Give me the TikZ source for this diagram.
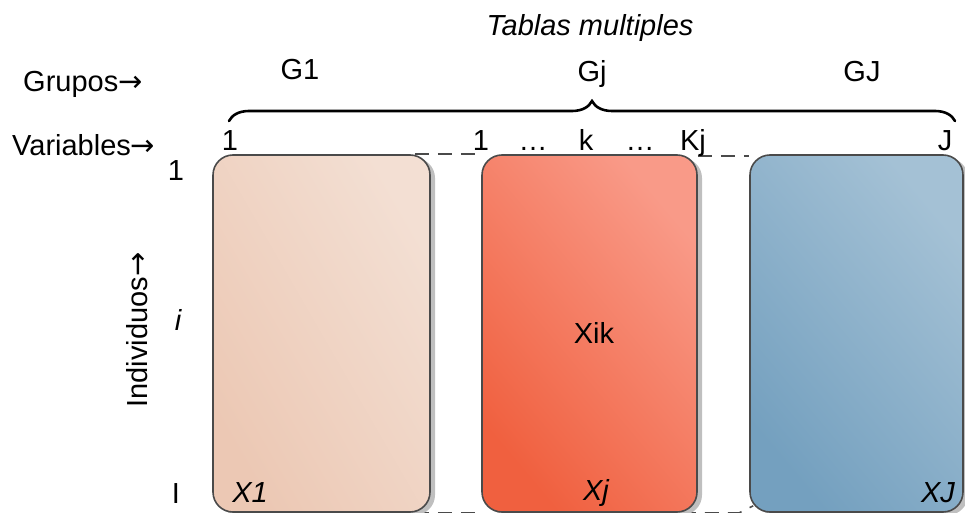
\documentclass[tikz,border=0pt]{standalone}
\usepackage{fontspec}
\setmainfont{Liberation Sans}
\newfontfamily\arrowfont{DejaVu Sans}
\usetikzlibrary{shadows,decorations.pathreplacing,backgrounds,calc}

\definecolor{frameC}{HTML}{4A4A4A}
\definecolor{peachA}{HTML}{ECC8B4}
\definecolor{peachB}{HTML}{F3DFD3}
\definecolor{redA}{HTML}{F0603F}
\definecolor{redM}{HTML}{F26B50}
\definecolor{redB}{HTML}{F99A88}
\definecolor{blueA}{HTML}{74A0BF}
\definecolor{blueM}{HTML}{86ADC8}
\definecolor{blueB}{HTML}{A4C1D5}

\newcommand{\rarr}{{\arrowfont →}}

\tikzset{
  lbl/.style={font=\fontsize{29}{34}\selectfont, inner sep=0pt, anchor=base},
  tablebox/.style={draw=frameC, line width=1.6pt, rounded corners=20pt,
    minimum height=357pt, inner sep=0pt,
    drop shadow={shadow xshift=5pt, shadow yshift=-3pt, fill=black!25, opacity=1}},
  linkline/.style={draw=frameC, line width=1.6pt, dash pattern=on 14pt off 9pt},
}

\begin{document}
\begin{tikzpicture}[x=1pt, y=-1pt]
\useasboundingbox (0,0) rectangle (965,513);

% the three data tables
\node[tablebox, minimum width=217pt, bottom color=peachA, top color=peachB, shading angle=-60]
  (tab1) at (321.5,333.5) {};
\node[tablebox, minimum width=215pt, bottom color=redA, middle color=redM, top color=redB,
  shading angle=-50] (tab2) at (589.5,333.5) {};
\node[tablebox, minimum width=213pt, bottom color=blueA, middle color=blueM, top color=blueB,
  shading angle=-50] (tab3) at (856.5,333.5) {};

% dashed links between neighbouring tables
\begin{pgfonlayer}{background}
\draw[linkline] ($(tab1.north east)+(-16,0)$) -- (tab2.north west);
\draw[linkline] ($(tab1.south east)+(-16,0)$) -- (tab2.south west);
\draw[linkline] ($(tab2.north east)+(0,2)$) -- ($(tab3.north west)+(0,2)$);
\draw[linkline] ($(tab2.south east)+(-16,0)$) -- ($(tab3.south west)+(-10,0)$) -- ($(tab3.south west)+(4,-7)$);
\end{pgfonlayer}

% brace over all variables
\coordinate (brL) at (229,121);
\coordinate (brR) at (955,121);
\draw[line width=2.6pt, line cap=round, decorate,
  decoration={brace, amplitude=20pt}] (brL) -- (brR);

% titles
\node[lbl] (title) at (590,36) {\itshape Tablas multiples};
\node[lbl, anchor=base west] (grupos) at (23,92) {Grupos\rarr};
\node[lbl] (g1) at (300,80) {G1};
\node[lbl] (gj) at (592,82) {Gj};
\node[lbl] (gJ) at (862,82) {GJ};

% variable indices
\node[lbl, anchor=base west] (vars) at (12,156) {Variables\rarr};
\node[lbl] (v1) at (230,150) {1};
\node[lbl] (w1) at (481,150) {1};
\node[lbl] (d1) at (533,150) {…};
\node[lbl] (vk) at (586,150) {k};
\node[lbl] (d2) at (640,150) {…};
\node[lbl] (vKj) at (693,150) {Kj};
\node[lbl] (vJ) at (945,150) {J};

% individual indices
\node[lbl] (r1) at (176,180) {1};
\node[lbl] (ri) at (178,330) {\itshape i};
\node[lbl] (rI) at (176,503) {I};
\node[lbl, anchor=center, rotate=90] (indiv) at (137,330) {Individuos\rarr};

% table labels
\node[lbl] (xik) at (594,343) {Xik};
\node[lbl] (x1) at (250,502) {\itshape X1};
\node[lbl] (xj) at (596,500) {\itshape Xj};
\node[lbl] (xJ) at (938,502) {\itshape XJ};
\end{tikzpicture}
\end{document}
